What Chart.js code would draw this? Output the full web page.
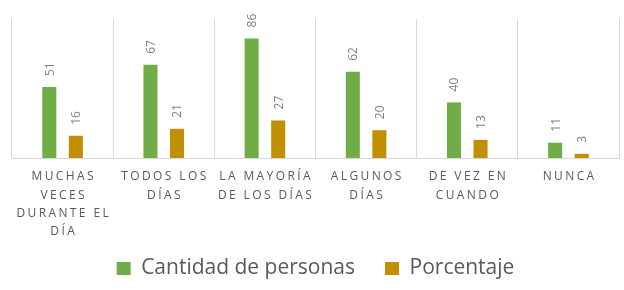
<!DOCTYPE html>
<html>
<head>
<meta charset="utf-8">
<script src="https://cdn.jsdelivr.net/npm/chart.js@4.4.0/dist/chart.umd.min.js"></script>
<style>
  html, body { margin: 0; padding: 0; background: #fff; }
  #wrap { width: 624px; height: 290px; }
</style>
</head>
<body>
<div id="wrap"><canvas id="c"></canvas></div>
<script>
const categories = [
  ['MUCHAS', 'VECES', 'DURANTE EL', 'DÍA'],
  ['TODOS LOS', 'DÍAS'],
  ['LA MAYORÍA', 'DE LOS DÍAS'],
  ['ALGUNOS', 'DÍAS'],
  ['DE VEZ EN', 'CUANDO'],
  ['NUNCA']
]
const cantidad = [51, 67, 86, 62, 40, 11]
const porcentaje = [16, 21, 27, 20, 13, 3]

const FONT = '"Open Sans", "Liberation Sans", sans-serif'

// rotated value labels above each bar
const barLabels = {
  id: 'barLabels',
  afterDatasetsDraw(chart) {
    const ctx = chart.ctx
    ctx.save()
    ctx.font = '12px ' + FONT
    ctx.fillStyle = '#7f7f7f'
    chart.data.datasets.forEach((ds, i) => {
      chart.getDatasetMeta(i).data.forEach((bar, j) => {
        ctx.save()
        ctx.translate(bar.x + 1, bar.y - 11)
        ctx.rotate(-Math.PI / 2)
        ctx.textAlign = 'left'
        ctx.textBaseline = 'middle'
        ctx.fillText(ds.data[j], 0, 0)
        ctx.restore()
      })
    })
    ctx.restore()
  }
}

// category labels with letter spacing
const catLabels = {
  id: 'catLabels',
  afterDraw(chart) {
    const ctx = chart.ctx
    const xs = chart.scales.x
    const top = chart.chartArea.bottom
    ctx.save()
    ctx.font = '12px ' + FONT
    ctx.fillStyle = '#595959'
    ctx.letterSpacing = '2.4px'
    ctx.textAlign = 'center'
    ctx.textBaseline = 'middle'
    categories.forEach((lines, i) => {
      const x = xs.getPixelForValue(i) + 1.2
      lines.forEach((line, k) => {
        ctx.fillText(line, x, top + 19 + k * 18.3)
      })
    })
    ctx.restore()
  }
}

new Chart(document.getElementById('c'), {
  type: 'bar',
  data: {
    labels: categories.map(l => l.join(' ')),
    datasets: [
      { label: 'Cantidad de personas', data: cantidad, backgroundColor: '#70ad47' },
      { label: 'Porcentaje', data: porcentaje, backgroundColor: '#c09000' }
    ]
  },
  options: {
    responsive: true,
    maintainAspectRatio: false,
    animation: false,
    layout: { padding: { left: 12, right: 5, top: 19, bottom: 1 } },
    categoryPercentage: 0.525,
    barPercentage: 0.53,
    scales: {
      x: {
        grid: { color: '#d9d9d9', offset: true, drawTicks: false },
        border: { color: '#d9d9d9' },
        ticks: { display: false },
        afterFit(scale) { scale.height = 70 }
      },
      y: { display: false, min: 0, max: 100 }
    },
    plugins: {
      legend: {
        position: 'bottom',
        maxHeight: 65,
        labels: {
          boxWidth: 14,
          boxHeight: 13,
          padding: 30,
          color: '#595959',
          font: { family: FONT, size: 21 }
        }
      },
      tooltip: { enabled: false }
    }
  },
  plugins: [barLabels, catLabels]
})
</script>
</body>
</html>
